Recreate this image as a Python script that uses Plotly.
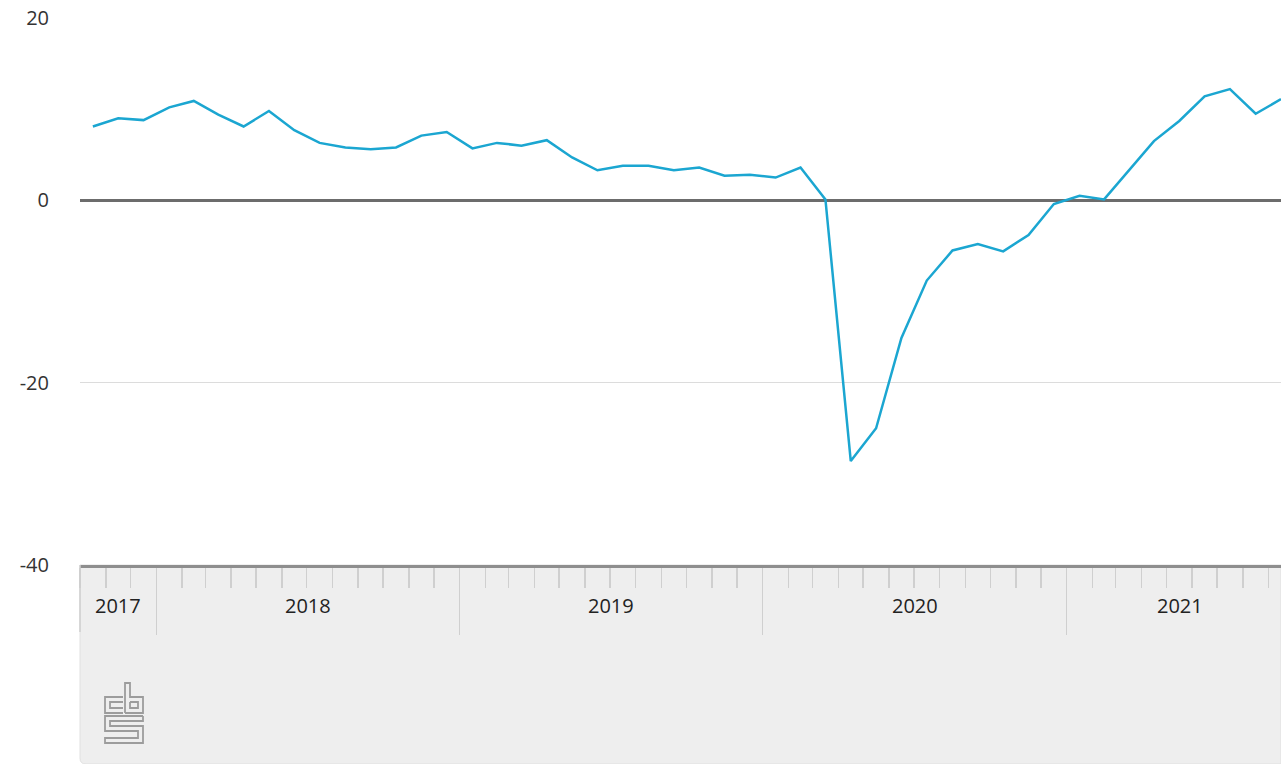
import plotly.graph_objects as go
import pandas as pd

# ---- data ----
months = pd.date_range("2017-10-01", "2021-09-01", freq="MS").strftime("%Y-%m-%d").tolist()
values = [
    8.1, 9.0, 8.8,
    10.2, 10.9, 9.4, 8.1, 9.8, 7.7, 6.3, 5.8, 5.6, 5.8, 7.1, 7.5,
    5.7, 6.3, 6.0, 6.6, 4.7, 3.3, 3.8, 3.8, 3.3, 3.6, 2.7, 2.8,
    2.5, 3.6, 0.1, -28.6, -25.0, -15.1, -8.8, -5.5, -4.8, -5.6, -3.8, -0.4,
    0.5, 0.1, 3.3, 6.5, 8.7, 11.4, 12.2, 9.5, 11.1,
]
years = [2017, 2018, 2019, 2020, 2021]
y_tickvals = [-40, -20, 0, 20]
y_ticktext = ["-40", "-20", "0", "20"]
period_start = "2017-10-01"
period_end = "2021-10-01"
x_range = ["2017-10-01", "2021-09-16"]
y_range = [-40, 20]

# ---- geometry helpers ----
W, H = 1281, 764
ML, MR, MT, MB = 80, 0, 18, 199
PW, PH = W - ML - MR, H - MT - MB
def px(x):
    return (x - ML) / PW
def py(y):
    return (H - MB - y) / PH

FONT = "Open Sans, Noto Sans, sans-serif"

fig = go.Figure()
fig.add_trace(go.Scatter(
    x=months, y=values, mode="lines",
    xperiod="M1", xperiodalignment="middle",
    line=dict(color="#1ba6d1", width=2.5),
    hoverinfo="skip", showlegend=False,
))

shapes = []
# grey band under axis
r = 6
shapes.append(dict(
    type="path", xref="paper", yref="paper", layer="below",
    path=(f"M 0,0 L 0,{py(H - r)} Q 0,{py(H)} {px(ML + r)},{py(H)} "
          f"L 1,{py(H)} L 1,0 Z"),
    fillcolor="#eeeeee", line=dict(color="#e0e0e0", width=1),
))
shapes.append(dict(type="line", xref="paper", yref="paper", layer="above",
                   x0=0, x1=0, y0=0, y1=py(632),
                   line=dict(color="#cfcfcf", width=1.5)))

# cbs logo (outline strokes)
ox, oy = 105, 683
logo_paths = [
    [(18, 14), (0, 14), (0, 30), (18, 30)],
    [(18, 19), (5, 19), (5, 25), (18, 25)],
    [(20, 30), (20, 0), (25, 0), (25, 14), (38, 14), (38, 30), (20, 30)],
    [(25, 19), (33, 19), (33, 25), (25, 25), (25, 19)],
    [(38, 33), (0, 33), (0, 48), (33, 48), (33, 55), (0, 55), (0, 60),
     (38, 60), (38, 43), (5, 43), (5, 38), (38, 38), (38, 33)],
]
for pts in logo_paths:
    d = "M " + " L ".join(f"{px(ox + a)},{py(oy + b)}" for a, b in pts)
    shapes.append(dict(type="path", xref="paper", yref="paper", layer="above",
                       path=d, line=dict(color="#9c9c9c", width=1.8)))

# year labels centred on the visible part of each year
annotations = []
ps, pe = pd.Timestamp(period_start), pd.Timestamp(period_end)
for yr in years:
    a = max(pd.Timestamp(f"{yr}-01-01"), ps)
    b = min(pd.Timestamp(f"{yr + 1}-01-01"), pe)
    mid = a + (b - a) / 2
    annotations.append(dict(
        x=mid.strftime("%Y-%m-%d %H:%M"), y=py(605), xref="x", yref="paper",
        text=str(yr), showarrow=False, yanchor="middle", xanchor="center",
        font=dict(family=FONT, size=20, color="#222222"),
    ))

fig.update_layout(
    width=W, height=H,
    margin=dict(l=ML, r=MR, t=MT, b=MB, pad=0),
    paper_bgcolor="white", plot_bgcolor="white",
    font=dict(family=FONT, size=20, color="#333333"),
    shapes=shapes, annotations=annotations,
    xaxis=dict(
        type="date", range=x_range, showgrid=False, zeroline=False,
        showline=True, linecolor="#8e8e8e", linewidth=2.5,
        ticks="outside", tick0="2018-01-01", dtick="M12", ticklen=67,
        tickcolor="#cfcfcf", tickwidth=1.5, showticklabels=False,
        minor=dict(ticks="outside", tick0="2017-10-01", dtick="M1",
                   ticklen=20, tickcolor="#cfcfcf", tickwidth=1.5,
                   showgrid=False),
        fixedrange=True,
    ),
    yaxis=dict(
        range=y_range, tickmode="array", tickvals=y_tickvals, ticktext=y_ticktext,
        showgrid=True, gridcolor="#dcdcdc", gridwidth=1,
        zeroline=True, zerolinecolor="#6c6c6c", zerolinewidth=3,
        showline=False, ticks="", ticklabelstandoff=30,
        tickfont=dict(family=FONT, size=20, color="#333333"),
        fixedrange=True,
    ),
)

fig.write_html(
    "out.html",
    config={"displayModeBar": False, "staticPlot": True},
    post_script="document.body.style.margin='0';document.body.style.overflow='hidden';",
)
